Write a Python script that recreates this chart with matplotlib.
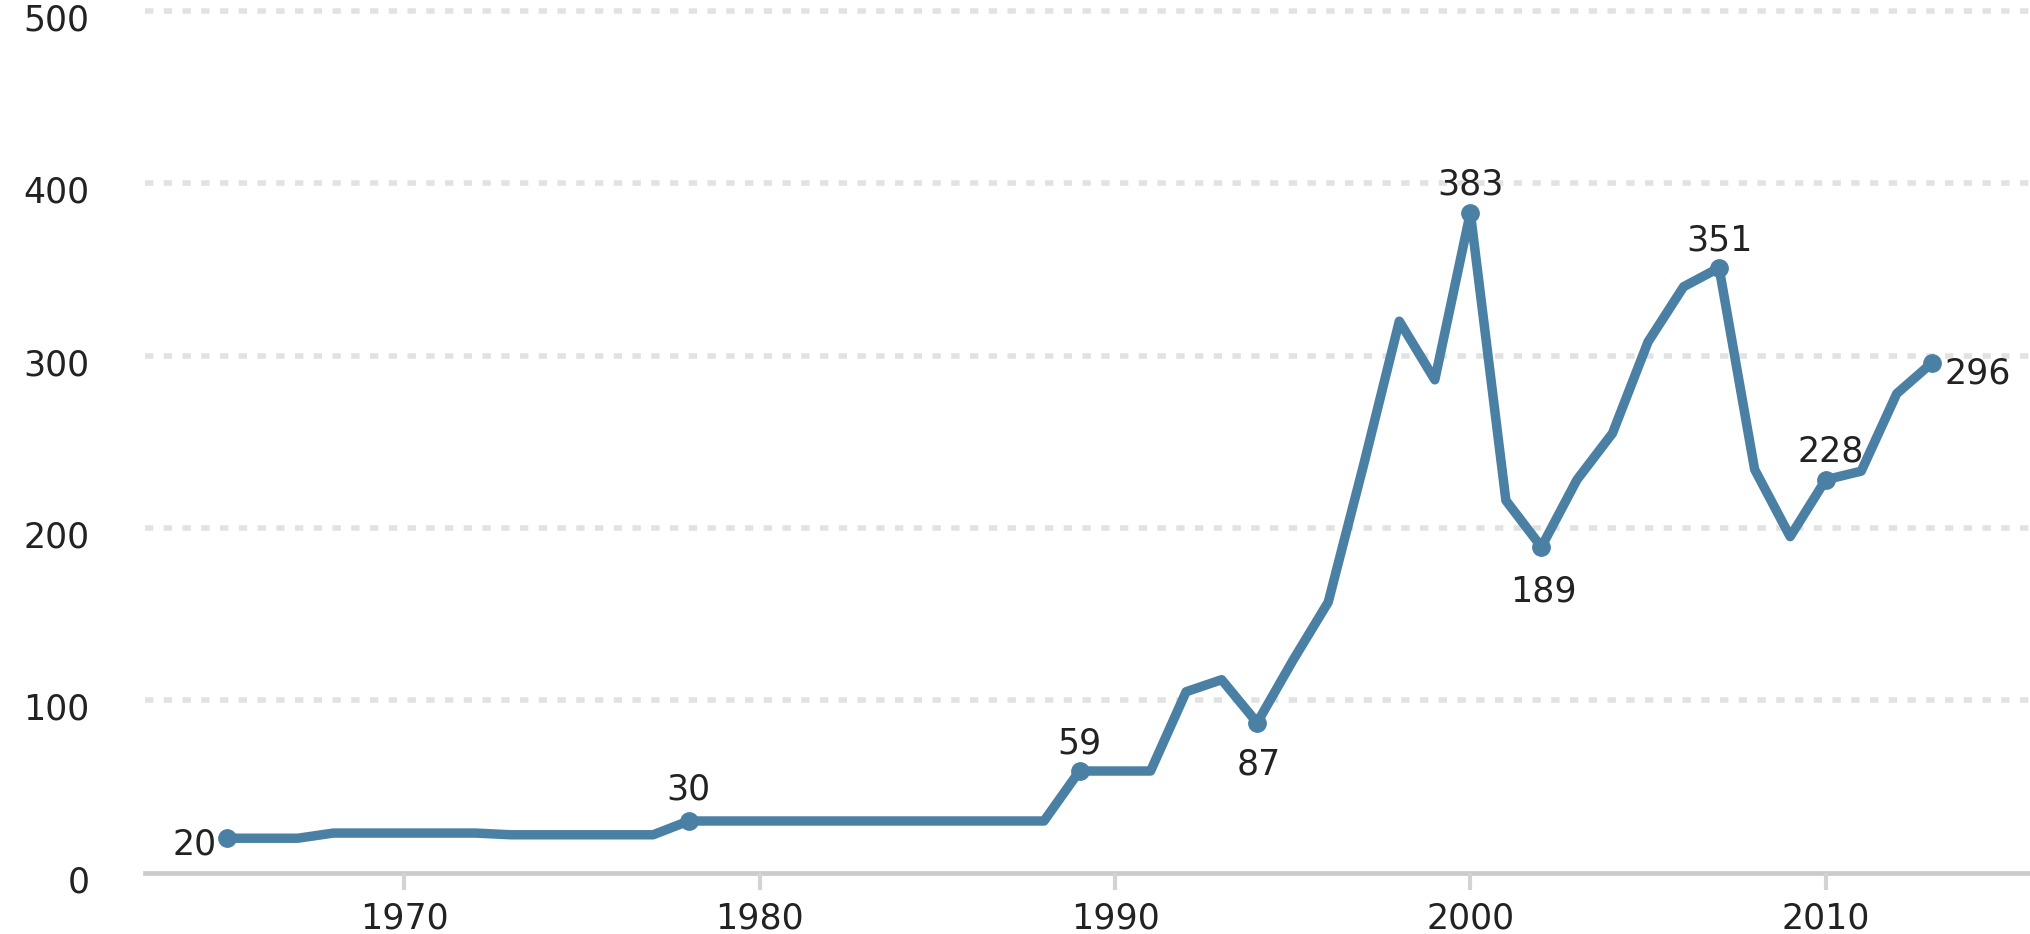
import matplotlib
matplotlib.use("Agg")
import matplotlib.pyplot as plt
import matplotlib.transforms as mtransforms

plt.rcParams['font.family'] = ['DejaVu Sans']
plt.rcParams['lines.scale_dashes'] = False

# ---- data ----
years = list(range(1965, 2014))
values = [20, 20, 20, 23, 23, 23, 23, 23, 22, 22, 22, 22, 22,
          30, 30, 30, 30, 30, 30, 30, 30, 30, 30, 30,
          59, 59, 59, 105, 112, 87, 123, 157, 237, 320, 286,
          383, 216, 189, 228, 255, 308, 340, 351, 234, 195, 228,
          233, 278, 296]
label_years = [1965, 1978, 1989, 1994, 2000, 2002, 2007, 2010, 2013]
y_ticks = [0, 100, 200, 300, 400, 500]
x_ticks = [1970, 1980, 1990, 2000, 2010]

# label placement (pixel offsets, alignment) per labelled year
label_style = {
    1965: ((-10, -6), 'right', 'center'),
    1978: ((0, 31), 'center', 'center'),
    1989: ((0, 28), 'center', 'center'),
    1994: ((2, -42), 'center', 'center'),
    2000: ((0, 28), 'center', 'center'),
    2002: ((2, -45), 'center', 'center'),
    2007: ((0, 27), 'center', 'center'),
    2010: ((5, 28), 'center', 'center'),
    2013: ((12, -11), 'left', 'center'),
}

LINE = '#4a80a4'
FS = 25
W, H = 2030, 934
fig = plt.figure(figsize=(W / 100, H / 100), dpi=100)
ax_left = 145 / W
ax_bottom = 1 - 872.7 / H
ax_top = 1 - 11 / H
ax = fig.add_axes([ax_left, ax_bottom, 1 - ax_left, ax_top - ax_bottom])
ax.set_xlim(1962.7, 2015.75)
ax.set_ylim(0, 500)

for s in ax.spines.values():
    s.set_visible(False)

# gridlines (dotted) for non-zero ticks
for yt in y_ticks[1:]:
    ax.axhline(yt, color='#e2e2e2', lw=4.0, ls=(0, (6.0, 7.5)), zorder=1,
               clip_on=False)
# baseline
ax.axhline(0, color='#cbcbcb', lw=3.4, zorder=1, clip_on=False)

ax.plot(years, values, color=LINE, lw=6.8, solid_joinstyle='round',
        solid_capstyle='round', zorder=3, clip_on=False)

lab_vals = [values[years.index(y)] for y in label_years]
ax.plot(label_years, lab_vals, 'o', color=LINE, ms=12.5, zorder=4, clip_on=False)

for yr, v in zip(label_years, lab_vals):
    (dx, dy), ha, va = label_style[yr]
    ax.annotate(str(v), (yr, v), xytext=(dx, dy), textcoords='offset pixels',
                ha=ha, va=va, fontsize=FS, color='#222222', zorder=5)

ax.set_yticks(y_ticks)
ax.set_yticklabels([str(t) for t in y_ticks])
ax.set_xticks(x_ticks)
ax.set_xticklabels([str(t) for t in x_ticks])
ax.tick_params(axis='y', length=0, pad=40, labelsize=FS, labelcolor='#222222')
ax.tick_params(axis='x', length=12, width=3.0, color='#d3d3d3', pad=9,
               labelsize=FS, labelcolor='#222222')
off = mtransforms.ScaledTranslation(0, -6 / 100, fig.dpi_scale_trans)
for lbl in ax.get_yticklabels():
    lbl.set_transform(lbl.get_transform() + off)

fig.savefig('out.png', dpi=100, facecolor='white')
